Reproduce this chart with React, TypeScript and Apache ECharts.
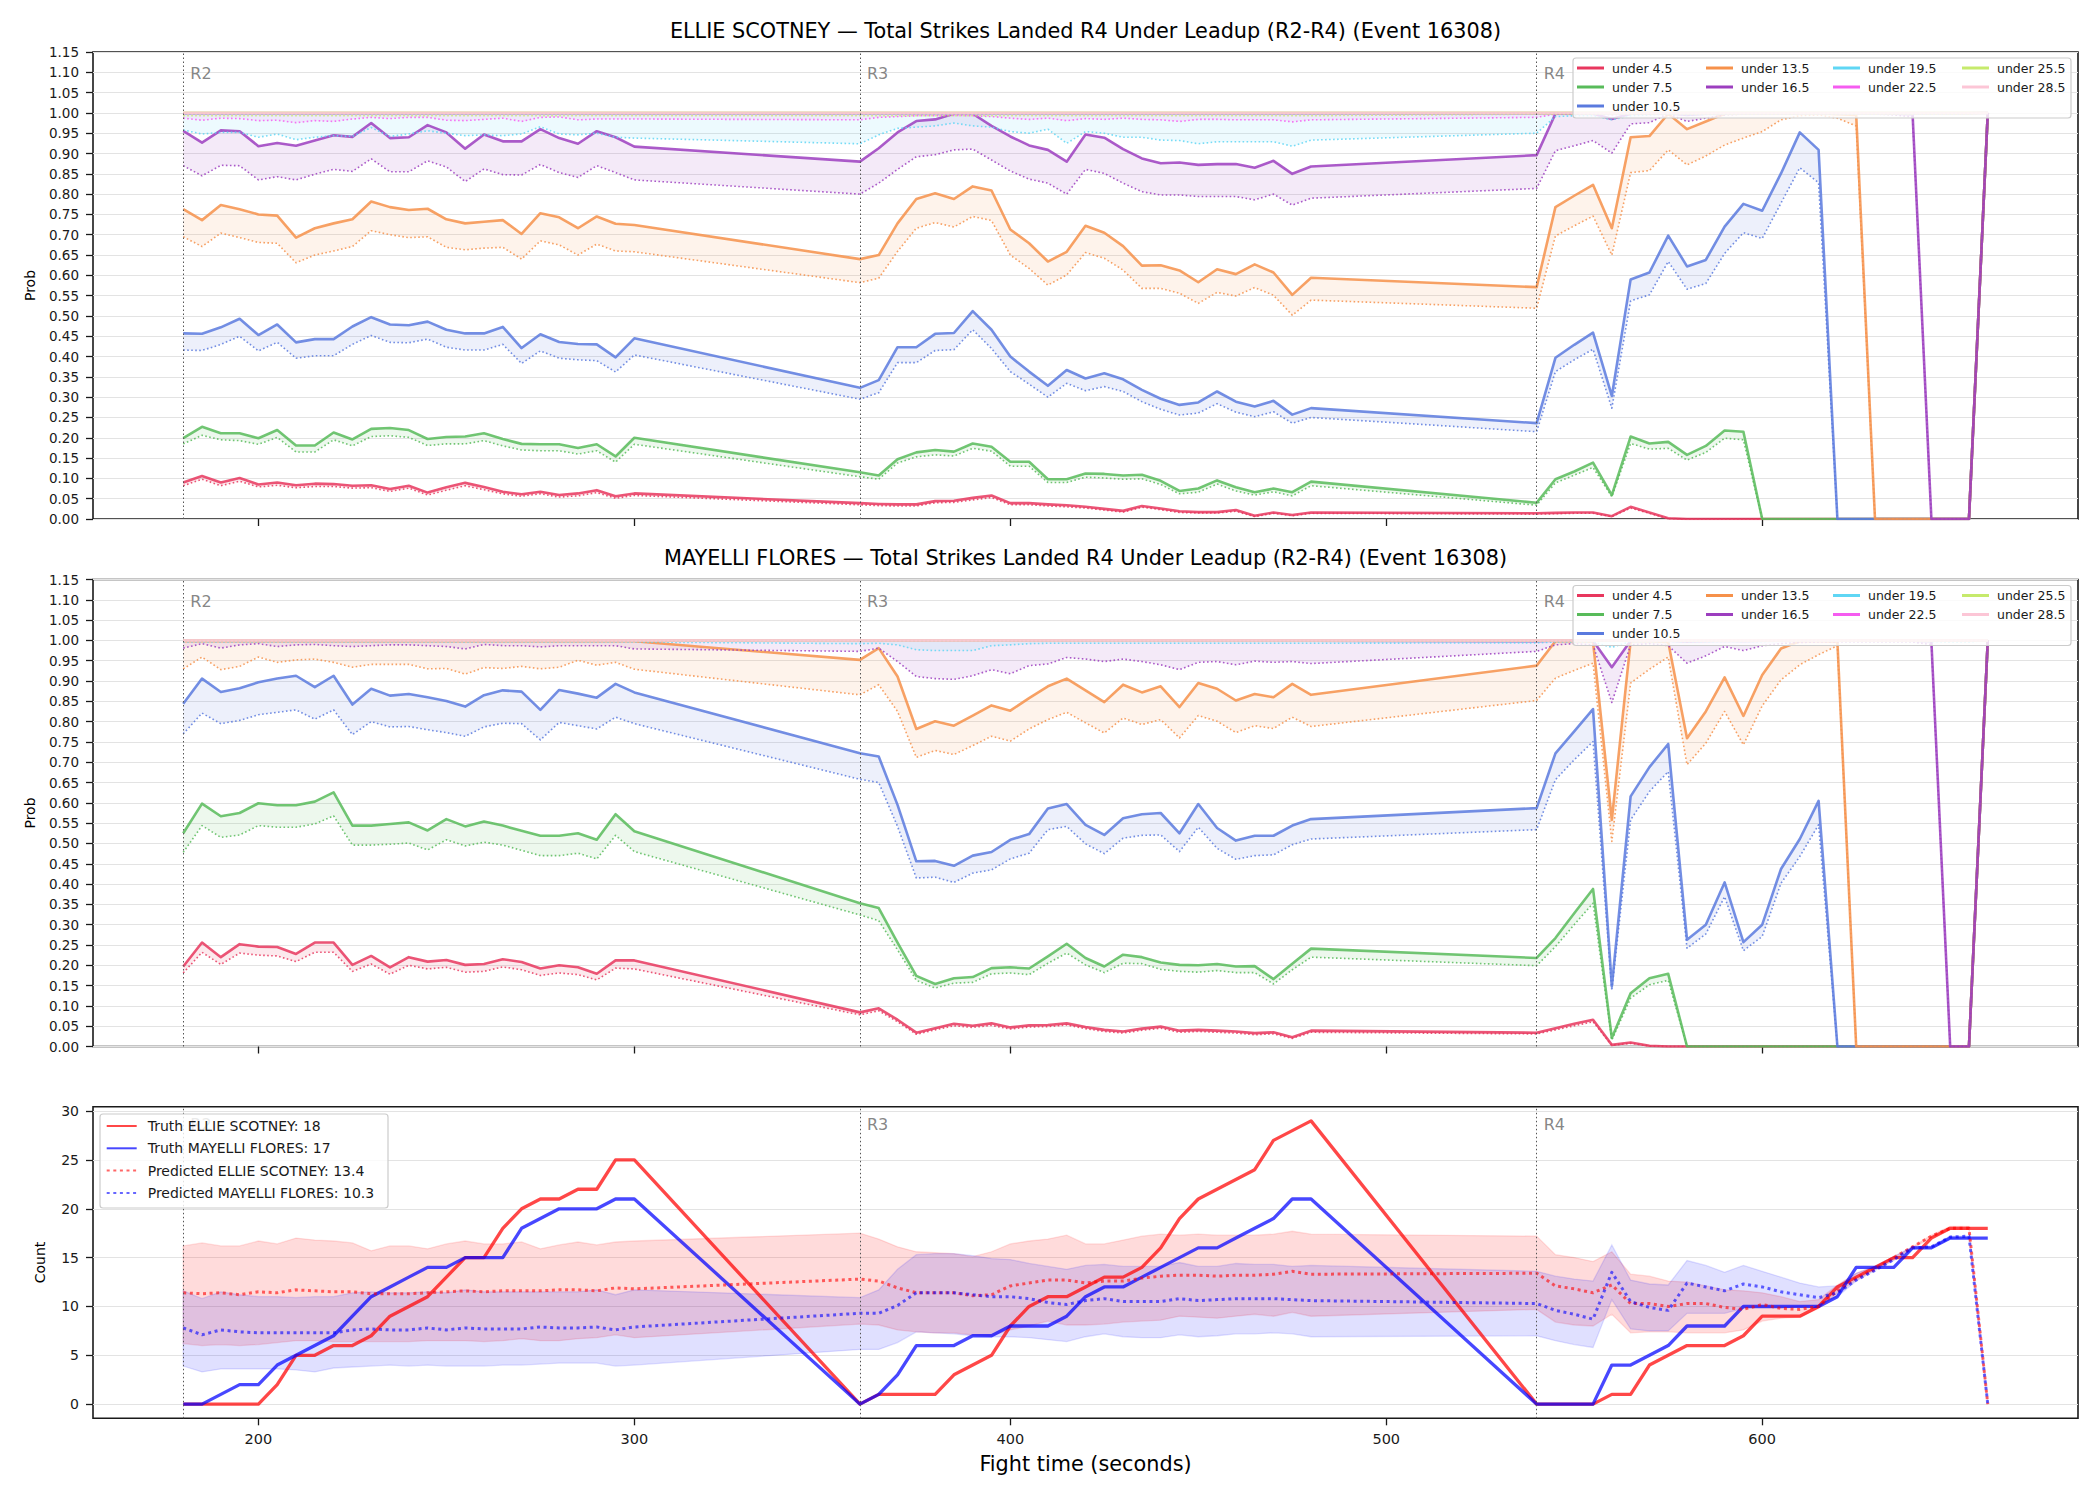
import React, { useEffect, useRef } from "react";
import * as echarts from "echarts";

// ---------- labels & categories ----------
const fighters = ["ELLIE SCOTNEY", "MAYELLI FLORES"];
const titleSuffix = " — Total Strikes Landed R4 Under Leadup (R2-R4) (Event 16308)";
const thresholds = [
  "under 4.5", "under 7.5", "under 10.5", "under 13.5", "under 16.5",
  "under 19.5", "under 22.5", "under 25.5", "under 28.5",
];
const thresholdColors = [
  "#e8375e", "#58bb5a", "#5a7ade", "#f6914a", "#9c3ebf",
  "#5fd6f4", "#f55cf0", "#c6ea6c", "#fcc6d6",
];
const rounds = [180, 360, 540];
const roundNames = ["R2", "R3", "R4"];
const xTicks = [200, 300, 400, 500, 600];
const countTicks = [0, 5, 10, 15, 20, 25, 30];

// fight-time sample points (seconds)
const times = [
  180, 185, 190, 195, 200, 205, 210, 215, 220, 225, 230, 235, 240, 245, 250, 255, 260, 265, 270, 275, 280, 285, 290, 295, 300,
  360, 365, 370, 375, 380, 385, 390, 395, 400, 405, 410, 415, 420, 425, 430, 435, 440, 445, 450, 455, 460, 465, 470, 475, 480,
  540, 545, 550, 555, 560, 565, 570, 575, 580, 585, 590, 595, 600, 605, 610, 615, 620, 625, 630, 635, 640, 645, 650, 655, 660,
];

// ---------- ELLIE SCOTNEY: model (solid) and baseline (dotted) probabilities ----------
const ellieU4 = [
  0.090, 0.106, 0.090, 0.101, 0.085, 0.090, 0.083, 0.087, 0.086, 0.082, 0.083, 0.074, 0.082, 0.065, 0.078, 0.089, 0.079, 0.067, 0.061, 0.067, 0.059, 0.063, 0.071, 0.056, 0.063,
  0.039, 0.037, 0.036, 0.036, 0.044, 0.045, 0.052, 0.058, 0.039, 0.039, 0.036, 0.034, 0.030, 0.025, 0.020, 0.032, 0.026, 0.019, 0.017, 0.017, 0.022, 0.008, 0.016, 0.010, 0.016,
  0.014, 0.015, 0.016, 0.016, 0.007, 0.030, 0.016, 0.002, 0, 0, 0, 0, 0, 0, 0, 0, 0, 0, 0, 0, 0, 0, 0, 0, 1,
];
const ellieU4Base = [
  0.082, 0.098, 0.082, 0.093, 0.079, 0.083, 0.077, 0.080, 0.080, 0.076, 0.077, 0.068, 0.076, 0.059, 0.071, 0.082, 0.072, 0.062, 0.056, 0.062, 0.054, 0.057, 0.065, 0.051, 0.058,
  0.035, 0.033, 0.032, 0.032, 0.040, 0.041, 0.047, 0.053, 0.035, 0.035, 0.032, 0.030, 0.027, 0.022, 0.017, 0.029, 0.023, 0.016, 0.015, 0.015, 0.019, 0.006, 0.014, 0.008, 0.014,
  0.012, 0.013, 0.014, 0.014, 0.006, 0.027, 0.014, 0.001, 0, 0, 0, 0, 0, 0, 0, 0, 0, 0, 0, 0, 0, 0, 0, 0, 1,
];
const ellieU7 = [
  0.199, 0.227, 0.211, 0.211, 0.199, 0.219, 0.181, 0.181, 0.213, 0.196, 0.222, 0.224, 0.219, 0.197, 0.202, 0.203, 0.211, 0.197, 0.185, 0.184, 0.184, 0.175, 0.184, 0.154, 0.200,
  0.115, 0.107, 0.147, 0.164, 0.170, 0.166, 0.186, 0.178, 0.141, 0.141, 0.098, 0.098, 0.112, 0.111, 0.107, 0.109, 0.094, 0.069, 0.075, 0.095, 0.078, 0.066, 0.075, 0.066, 0.092,
  0.040, 0.098, 0.117, 0.139, 0.059, 0.203, 0.186, 0.190, 0.158, 0.180, 0.218, 0.215, 0, 0, 0, 0, 0, 0, 0, 0, 0, 0, 0, 0, 1,
];
const ellieU7Base = [
  0.185, 0.206, 0.195, 0.193, 0.184, 0.201, 0.165, 0.165, 0.195, 0.180, 0.203, 0.205, 0.201, 0.181, 0.185, 0.185, 0.193, 0.180, 0.170, 0.168, 0.168, 0.160, 0.168, 0.140, 0.184,
  0.104, 0.098, 0.138, 0.153, 0.158, 0.155, 0.174, 0.167, 0.130, 0.130, 0.090, 0.090, 0.103, 0.101, 0.098, 0.099, 0.085, 0.062, 0.066, 0.086, 0.069, 0.059, 0.067, 0.057, 0.082,
  0.034, 0.089, 0.108, 0.127, 0.055, 0.186, 0.172, 0.174, 0.145, 0.164, 0.199, 0.195, 0, 0, 0, 0, 0, 0, 0, 0, 0, 0, 0, 0, 1,
];
const ellieU10 = [
  0.457, 0.456, 0.472, 0.493, 0.453, 0.479, 0.435, 0.443, 0.443, 0.474, 0.497, 0.479, 0.477, 0.486, 0.466, 0.457, 0.457, 0.473, 0.421, 0.455, 0.436, 0.431, 0.430, 0.398, 0.445,
  0.323, 0.342, 0.423, 0.423, 0.456, 0.458, 0.512, 0.466, 0.400, 0.363, 0.328, 0.367, 0.346, 0.359, 0.344, 0.318, 0.296, 0.281, 0.287, 0.314, 0.289, 0.277, 0.291, 0.257, 0.273,
  0.236, 0.397, 0.429, 0.459, 0.303, 0.590, 0.607, 0.698, 0.622, 0.638, 0.720, 0.776, 0.759, 0.851, 0.952, 0.909, 0, 0, 0, 0, 0, 0, 0, 0, 1,
];
const ellieU10Base = [
  0.416, 0.415, 0.430, 0.450, 0.414, 0.435, 0.396, 0.402, 0.402, 0.430, 0.452, 0.435, 0.434, 0.443, 0.423, 0.416, 0.416, 0.430, 0.383, 0.414, 0.396, 0.392, 0.390, 0.362, 0.404,
  0.295, 0.311, 0.385, 0.385, 0.415, 0.417, 0.466, 0.420, 0.363, 0.332, 0.300, 0.334, 0.316, 0.326, 0.314, 0.289, 0.270, 0.256, 0.261, 0.284, 0.263, 0.252, 0.264, 0.236, 0.250,
  0.215, 0.363, 0.392, 0.418, 0.273, 0.537, 0.552, 0.634, 0.566, 0.580, 0.654, 0.705, 0.691, 0.778, 0.865, 0.828, 0, 0, 0, 0, 0, 0, 0, 0, 1,
];
const ellieU13 = [
  0.763, 0.736, 0.773, 0.763, 0.750, 0.747, 0.693, 0.716, 0.728, 0.738, 0.782, 0.768, 0.761, 0.764, 0.738, 0.728, 0.732, 0.736, 0.702, 0.753, 0.743, 0.716, 0.745, 0.727, 0.724,
  0.640, 0.650, 0.728, 0.788, 0.802, 0.788, 0.819, 0.809, 0.713, 0.679, 0.634, 0.658, 0.722, 0.705, 0.672, 0.624, 0.625, 0.612, 0.583, 0.615, 0.603, 0.627, 0.607, 0.552, 0.594,
  0.571, 0.768, 0.796, 0.823, 0.716, 0.940, 0.943, 0.998, 0.960, 0.979, 0.998, 0.999, 0.999, 0.999, 0.999, 0.999, 0.997, 0.995, 0, 0, 0, 0, 0, 0, 1,
];
const ellieU13Base = [
  0.695, 0.671, 0.704, 0.693, 0.681, 0.679, 0.631, 0.650, 0.660, 0.671, 0.710, 0.700, 0.693, 0.695, 0.669, 0.663, 0.667, 0.669, 0.640, 0.685, 0.675, 0.650, 0.677, 0.660, 0.658,
  0.582, 0.593, 0.659, 0.716, 0.730, 0.719, 0.745, 0.735, 0.650, 0.617, 0.576, 0.601, 0.656, 0.642, 0.613, 0.568, 0.568, 0.556, 0.531, 0.558, 0.549, 0.570, 0.551, 0.502, 0.539,
  0.519, 0.697, 0.722, 0.746, 0.650, 0.853, 0.858, 0.909, 0.872, 0.894, 0.921, 0.938, 0.954, 0.983, 0.993, 0.995, 0.987, 0.968, 0, 0, 0, 0, 0, 0, 1,
];
const ellieU16 = [
  0.956, 0.927, 0.957, 0.955, 0.918, 0.926, 0.919, 0.932, 0.945, 0.941, 0.975, 0.938, 0.940, 0.970, 0.952, 0.912, 0.947, 0.930, 0.930, 0.960, 0.938, 0.924, 0.955, 0.940, 0.917,
  0.880, 0.913, 0.952, 0.980, 0.984, 0.998, 0.998, 0.968, 0.942, 0.920, 0.909, 0.880, 0.947, 0.939, 0.911, 0.888, 0.876, 0.878, 0.872, 0.874, 0.874, 0.865, 0.882, 0.850, 0.868,
  0.896, 0.998, 0.998, 0.998, 0.985, 0.998, 0.998, 0.999, 0.995, 0.998, 0.999, 0.999, 0.999, 0.999, 0.999, 0.999, 0.999, 0.999, 0.999, 0.998, 0.997, 0, 0, 0, 1,
];
const ellieU16Base = [
  0.870, 0.845, 0.871, 0.870, 0.835, 0.843, 0.835, 0.849, 0.861, 0.856, 0.887, 0.855, 0.855, 0.882, 0.867, 0.831, 0.862, 0.848, 0.847, 0.873, 0.853, 0.841, 0.870, 0.853, 0.835,
  0.800, 0.827, 0.861, 0.892, 0.897, 0.909, 0.911, 0.884, 0.857, 0.837, 0.827, 0.800, 0.861, 0.851, 0.827, 0.806, 0.798, 0.798, 0.794, 0.794, 0.794, 0.786, 0.800, 0.773, 0.790,
  0.814, 0.907, 0.919, 0.932, 0.901, 0.973, 0.976, 0.998, 0.979, 0.987, 0.995, 0.997, 0.997, 0.998, 0.998, 0.998, 0.998, 0.998, 0.997, 0.995, 0.990, 0, 0, 0, 1,
];
const ellieU19 = [
  0.998, 0.998, 0.998, 0.998, 0.998, 0.998, 0.998, 0.998, 0.998, 0.998, 0.998, 0.998, 0.998, 0.998, 0.998, 0.998, 0.998, 0.998, 0.998, 0.998, 0.998, 0.998, 0.998, 0.998, 0.998,
  0.998, 0.998, 0.998, 0.998, 0.998, 0.998, 0.998, 0.998, 0.998, 0.998, 0.998, 0.998, 0.998, 0.998, 0.998, 0.998, 0.998, 0.998, 0.998, 0.998, 0.998, 0.998, 0.998, 0.998, 0.998,
  0.999, 0.999, 0.999, 0.999, 0.999, 0.999, 0.999, 0.999, 0.999, 0.999, 0.999, 0.999, 0.999, 0.999, 0.999, 0.999, 0.999, 0.999, 0.999, 0.999, 0.999, 0.999, 0.999, 0.999, 1,
];
const ellieU19Base = [
  0.958, 0.948, 0.952, 0.952, 0.940, 0.948, 0.934, 0.940, 0.944, 0.942, 0.964, 0.942, 0.948, 0.956, 0.950, 0.944, 0.946, 0.944, 0.948, 0.966, 0.948, 0.946, 0.950, 0.940, 0.938,
  0.924, 0.946, 0.962, 0.965, 0.968, 0.975, 0.968, 0.965, 0.954, 0.950, 0.960, 0.925, 0.954, 0.950, 0.940, 0.940, 0.933, 0.932, 0.924, 0.929, 0.929, 0.929, 0.929, 0.918, 0.933,
  0.950, 0.991, 0.993, 0.993, 0.983, 0.993, 0.995, 0.997, 0.995, 0.996, 0.997, 0.998, 0.998, 0.998, 0.998, 0.998, 0.998, 0.998, 0.998, 0.998, 0.997, 0.997, 0.997, 0.998, 1,
];
const ellieU22 = [
  0.999, 0.999, 0.999, 0.999, 0.999, 0.999, 0.999, 0.999, 0.999, 0.999, 0.999, 0.999, 0.999, 0.999, 0.999, 0.999, 0.999, 0.999, 0.999, 0.999, 0.999, 0.999, 0.999, 0.999, 0.999,
  0.999, 0.999, 0.999, 0.999, 0.999, 0.999, 0.999, 0.999, 0.999, 0.999, 0.999, 0.999, 0.999, 0.999, 0.999, 0.999, 0.999, 0.999, 0.999, 0.999, 0.999, 0.999, 0.999, 0.999, 0.999,
  0.999, 0.999, 0.999, 0.999, 0.999, 0.999, 0.999, 0.999, 0.999, 0.999, 0.999, 0.999, 0.999, 0.999, 0.999, 0.999, 0.999, 0.999, 0.999, 0.999, 0.999, 0.999, 0.999, 0.999, 1,
];
const ellieU22Base = [
  0.987, 0.982, 0.987, 0.986, 0.981, 0.982, 0.976, 0.981, 0.979, 0.985, 0.989, 0.986, 0.989, 0.989, 0.982, 0.981, 0.984, 0.987, 0.979, 0.989, 0.990, 0.983, 0.985, 0.985, 0.985,
  0.983, 0.989, 0.991, 0.993, 0.993, 0.994, 0.993, 0.991, 0.987, 0.984, 0.987, 0.981, 0.986, 0.984, 0.987, 0.984, 0.983, 0.979, 0.984, 0.984, 0.983, 0.983, 0.983, 0.978, 0.983,
  0.989, 0.997, 0.998, 0.998, 0.995, 0.998, 0.998, 0.998, 0.998, 0.998, 0.998, 0.998, 0.998, 0.998, 0.998, 0.998, 0.998, 0.998, 0.998, 0.998, 0.998, 0.998, 0.998, 0.998, 1,
];
const ellieU25 = [
  1, 1, 1, 1, 1, 1, 1, 1, 1, 1, 1, 1, 1, 1, 1, 1, 1, 1, 1, 1, 1, 1, 1, 1, 1,
  1, 1, 1, 1, 1, 1, 1, 1, 1, 1, 1, 1, 1, 1, 1, 1, 1, 1, 1, 1, 1, 1, 1, 1, 1,
  1, 1, 1, 1, 1, 1, 1, 1, 1, 1, 1, 1, 1, 1, 1, 1, 1, 1, 1, 1, 1, 1, 1, 1, 1,
];
const ellieU25Base = [
  0.993, 0.993, 0.993, 0.993, 0.993, 0.993, 0.993, 0.993, 0.993, 0.993, 0.993, 0.993, 0.993, 0.993, 0.993, 0.993, 0.993, 0.993, 0.993, 0.993, 0.993, 0.993, 0.993, 0.993, 0.993,
  0.993, 0.993, 0.993, 0.993, 0.993, 0.993, 0.993, 0.993, 0.993, 0.993, 0.993, 0.993, 0.993, 0.993, 0.993, 0.993, 0.993, 0.993, 0.993, 0.993, 0.993, 0.993, 0.993, 0.993, 0.993,
  0.997, 0.997, 0.997, 0.997, 0.997, 0.997, 0.997, 0.997, 0.997, 0.997, 0.997, 0.997, 0.997, 0.997, 0.997, 0.997, 0.997, 0.997, 0.997, 0.997, 0.997, 0.997, 0.997, 0.997, 1,
];
const ellieU28 = [
  1, 1, 1, 1, 1, 1, 1, 1, 1, 1, 1, 1, 1, 1, 1, 1, 1, 1, 1, 1, 1, 1, 1, 1, 1,
  1, 1, 1, 1, 1, 1, 1, 1, 1, 1, 1, 1, 1, 1, 1, 1, 1, 1, 1, 1, 1, 1, 1, 1, 1,
  1, 1, 1, 1, 1, 1, 1, 1, 1, 1, 1, 1, 1, 1, 1, 1, 1, 1, 1, 1, 1, 1, 1, 1, 1,
];
const ellieU28Base = [
  0.998, 0.998, 0.998, 0.998, 0.998, 0.998, 0.998, 0.998, 0.998, 0.998, 0.998, 0.998, 0.998, 0.998, 0.998, 0.998, 0.998, 0.998, 0.998, 0.998, 0.998, 0.998, 0.998, 0.998, 0.998,
  0.998, 0.998, 0.998, 0.998, 0.998, 0.998, 0.998, 0.998, 0.998, 0.998, 0.998, 0.998, 0.998, 0.998, 0.998, 0.998, 0.998, 0.998, 0.998, 0.998, 0.998, 0.998, 0.998, 0.998, 0.998,
  0.999, 0.999, 0.999, 0.999, 0.999, 0.999, 0.999, 0.999, 0.999, 0.999, 0.999, 0.999, 0.999, 0.999, 0.999, 0.999, 0.999, 0.999, 0.999, 0.999, 0.999, 0.999, 0.999, 0.999, 1,
];

// ---------- MAYELLI FLORES ----------
const mayelliU4 = [
  0.197, 0.256, 0.220, 0.252, 0.246, 0.245, 0.228, 0.256, 0.256, 0.201, 0.223, 0.195, 0.220, 0.209, 0.213, 0.201, 0.203, 0.215, 0.208, 0.192, 0.200, 0.195, 0.179, 0.212, 0.212,
  0.084, 0.094, 0.066, 0.034, 0.045, 0.056, 0.051, 0.057, 0.047, 0.052, 0.053, 0.057, 0.048, 0.041, 0.037, 0.044, 0.049, 0.039, 0.041, 0.039, 0.037, 0.033, 0.035, 0.023, 0.039,
  0.034, 0.045, 0.056, 0.066, 0.004, 0.010, 0.002, 0, 0, 0, 0, 0, 0, 0, 0, 0, 0, 0, 0, 0, 0, 0, 0, 0, 1,
];
const mayelliU4Base = [
  0.181, 0.232, 0.202, 0.230, 0.225, 0.223, 0.209, 0.232, 0.232, 0.185, 0.203, 0.178, 0.200, 0.191, 0.195, 0.183, 0.185, 0.196, 0.189, 0.175, 0.181, 0.177, 0.164, 0.193, 0.191,
  0.078, 0.088, 0.061, 0.030, 0.041, 0.051, 0.047, 0.052, 0.043, 0.048, 0.049, 0.053, 0.044, 0.037, 0.033, 0.040, 0.045, 0.035, 0.037, 0.035, 0.033, 0.029, 0.031, 0.020, 0.035,
  0.031, 0.041, 0.051, 0.061, 0.003, 0.008, 0.001, 0, 0, 0, 0, 0, 0, 0, 0, 0, 0, 0, 0, 0, 0, 0, 0, 0, 1,
];
const mayelliU7 = [
  0.525, 0.598, 0.567, 0.575, 0.599, 0.594, 0.594, 0.603, 0.626, 0.544, 0.544, 0.548, 0.552, 0.532, 0.560, 0.542, 0.554, 0.544, 0.531, 0.519, 0.519, 0.525, 0.509, 0.572, 0.530,
  0.353, 0.341, 0.256, 0.174, 0.154, 0.168, 0.171, 0.193, 0.195, 0.192, 0.222, 0.253, 0.218, 0.197, 0.226, 0.220, 0.207, 0.201, 0.200, 0.203, 0.197, 0.198, 0.166, 0.204, 0.241,
  0.218, 0.267, 0.328, 0.388, 0.021, 0.131, 0.168, 0.179, 0, 0, 0, 0, 0, 0, 0, 0, 0, 0, 0, 0, 0, 0, 0, 0, 1,
];
const mayelliU7Base = [
  0.478, 0.544, 0.515, 0.521, 0.544, 0.540, 0.540, 0.548, 0.568, 0.496, 0.496, 0.498, 0.501, 0.484, 0.509, 0.494, 0.503, 0.496, 0.483, 0.470, 0.470, 0.476, 0.462, 0.520, 0.480,
  0.324, 0.310, 0.238, 0.163, 0.144, 0.156, 0.158, 0.179, 0.181, 0.177, 0.205, 0.230, 0.201, 0.182, 0.205, 0.204, 0.190, 0.185, 0.183, 0.187, 0.182, 0.182, 0.154, 0.189, 0.220,
  0.199, 0.246, 0.300, 0.353, 0.016, 0.119, 0.152, 0.163, 0, 0, 0, 0, 0, 0, 0, 0, 0, 0, 0, 0, 0, 0, 0, 0, 1,
];
const mayelliU10 = [
  0.844, 0.906, 0.873, 0.882, 0.897, 0.906, 0.913, 0.885, 0.913, 0.842, 0.881, 0.864, 0.868, 0.860, 0.851, 0.837, 0.865, 0.877, 0.874, 0.829, 0.878, 0.869, 0.859, 0.893, 0.872,
  0.722, 0.714, 0.595, 0.456, 0.457, 0.445, 0.470, 0.479, 0.509, 0.523, 0.586, 0.597, 0.546, 0.521, 0.562, 0.572, 0.575, 0.525, 0.597, 0.538, 0.507, 0.519, 0.519, 0.544, 0.560,
  0.587, 0.722, 0.776, 0.831, 0.148, 0.616, 0.688, 0.745, 0.263, 0.300, 0.404, 0.257, 0.300, 0.437, 0.511, 0.605, 0, 0, 0, 0, 0, 0, 0, 0, 1,
];
const mayelliU10Base = [
  0.770, 0.821, 0.795, 0.803, 0.817, 0.823, 0.829, 0.806, 0.829, 0.768, 0.800, 0.787, 0.788, 0.780, 0.773, 0.764, 0.787, 0.796, 0.795, 0.755, 0.798, 0.790, 0.782, 0.811, 0.795,
  0.658, 0.650, 0.542, 0.415, 0.417, 0.404, 0.427, 0.435, 0.462, 0.476, 0.534, 0.542, 0.499, 0.475, 0.513, 0.520, 0.521, 0.480, 0.540, 0.488, 0.461, 0.470, 0.472, 0.497, 0.511,
  0.534, 0.657, 0.706, 0.751, 0.138, 0.558, 0.628, 0.677, 0.242, 0.277, 0.369, 0.236, 0.271, 0.402, 0.468, 0.546, 0, 0, 0, 0, 0, 0, 0, 0, 1,
];
const mayelliU13 = [
  0.998, 0.998, 0.998, 0.998, 0.998, 0.998, 0.998, 0.998, 0.998, 0.998, 0.998, 0.998, 0.998, 0.998, 0.998, 0.998, 0.998, 0.998, 0.998, 0.998, 0.998, 0.998, 0.998, 0.998, 0.998,
  0.952, 0.981, 0.911, 0.782, 0.801, 0.790, 0.815, 0.840, 0.827, 0.858, 0.887, 0.906, 0.877, 0.848, 0.891, 0.872, 0.887, 0.836, 0.895, 0.881, 0.852, 0.868, 0.860, 0.893, 0.866,
  0.938, 0.998, 0.998, 0.997, 0.558, 0.998, 0.998, 0.996, 0.759, 0.825, 0.909, 0.814, 0.915, 0.980, 0.998, 0.998, 0.997, 0, 0, 0, 0, 0, 0, 0, 1,
];
const mayelliU13Base = [
  0.930, 0.959, 0.928, 0.936, 0.959, 0.946, 0.952, 0.954, 0.946, 0.934, 0.941, 0.941, 0.941, 0.930, 0.931, 0.917, 0.933, 0.931, 0.936, 0.930, 0.934, 0.951, 0.939, 0.946, 0.929,
  0.866, 0.891, 0.825, 0.712, 0.729, 0.719, 0.741, 0.764, 0.752, 0.782, 0.805, 0.823, 0.797, 0.772, 0.809, 0.793, 0.805, 0.760, 0.815, 0.801, 0.773, 0.790, 0.783, 0.811, 0.788,
  0.852, 0.907, 0.926, 0.944, 0.505, 0.895, 0.929, 0.959, 0.694, 0.747, 0.825, 0.743, 0.839, 0.903, 0.940, 0.965, 0.987, 0, 0, 0, 0, 0, 0, 0, 1,
];
const mayelliU16 = [
  0.999, 0.999, 0.999, 0.999, 0.999, 0.999, 0.999, 0.999, 0.999, 0.999, 0.999, 0.999, 0.999, 0.999, 0.999, 0.999, 0.999, 0.999, 0.999, 0.999, 0.999, 0.999, 0.999, 0.999, 0.999,
  0.999, 0.999, 0.999, 0.999, 0.999, 0.999, 0.999, 0.999, 0.999, 0.999, 0.999, 0.999, 0.999, 0.999, 0.999, 0.999, 0.999, 0.999, 0.999, 0.999, 0.999, 0.999, 0.999, 0.999, 0.999,
  0.998, 0.999, 0.999, 0.999, 0.934, 0.999, 0.999, 0.999, 0.997, 0.998, 0.999, 0.998, 0.999, 0.999, 0.999, 0.999, 0.999, 0.999, 0.999, 0.999, 0.999, 0.998, 0, 0, 1,
];
const mayelliU16Base = [
  0.981, 0.992, 0.981, 0.989, 0.992, 0.985, 0.989, 0.990, 0.987, 0.985, 0.987, 0.989, 0.989, 0.987, 0.985, 0.979, 0.990, 0.987, 0.987, 0.984, 0.987, 0.987, 0.987, 0.987, 0.979,
  0.973, 0.981, 0.948, 0.911, 0.906, 0.904, 0.913, 0.928, 0.918, 0.938, 0.942, 0.958, 0.954, 0.948, 0.954, 0.948, 0.940, 0.928, 0.946, 0.948, 0.940, 0.949, 0.946, 0.948, 0.943,
  0.973, 0.989, 0.992, 0.989, 0.847, 0.989, 0.992, 0.987, 0.944, 0.962, 0.985, 0.975, 0.987, 0.992, 0.995, 0.996, 0.996, 0.996, 0.996, 0.996, 0.996, 0.990, 0, 0, 1,
];
const mayelliU19 = [
  0.999, 0.999, 0.999, 0.999, 0.999, 0.999, 0.999, 0.999, 0.999, 0.999, 0.999, 0.999, 0.999, 0.999, 0.999, 0.999, 0.999, 0.999, 0.999, 0.999, 0.999, 0.999, 0.999, 0.999, 0.999,
  0.999, 0.999, 0.999, 0.999, 0.999, 0.999, 0.999, 0.999, 0.999, 0.999, 0.999, 0.999, 0.999, 0.999, 0.999, 0.999, 0.999, 0.999, 0.999, 0.999, 0.999, 0.999, 0.999, 0.999, 0.999,
  0.999, 0.999, 0.999, 0.999, 0.999, 0.999, 0.999, 0.999, 0.999, 0.999, 0.999, 0.999, 0.999, 0.999, 0.999, 0.999, 0.999, 0.999, 0.999, 0.999, 0.999, 0.999, 0.999, 0.999, 1,
];
const mayelliU19Base = [
  0.996, 0.996, 0.996, 0.996, 0.996, 0.996, 0.996, 0.996, 0.996, 0.996, 0.996, 0.996, 0.996, 0.996, 0.996, 0.996, 0.996, 0.996, 0.996, 0.996, 0.996, 0.996, 0.996, 0.996, 0.996,
  0.992, 0.993, 0.989, 0.977, 0.975, 0.975, 0.975, 0.987, 0.989, 0.992, 0.993, 0.993, 0.993, 0.993, 0.993, 0.993, 0.993, 0.993, 0.993, 0.993, 0.993, 0.993, 0.993, 0.993, 0.993,
  0.994, 0.996, 0.996, 0.996, 0.983, 0.997, 0.997, 0.997, 0.996, 0.996, 0.997, 0.997, 0.997, 0.998, 0.998, 0.998, 0.998, 0.998, 0.998, 0.998, 0.998, 0.997, 0.996, 0.996, 1,
];
const mayelliU22 = [
  1, 1, 1, 1, 1, 1, 1, 1, 1, 1, 1, 1, 1, 1, 1, 1, 1, 1, 1, 1, 1, 1, 1, 1, 1,
  1, 1, 1, 1, 1, 1, 1, 1, 1, 1, 1, 1, 1, 1, 1, 1, 1, 1, 1, 1, 1, 1, 1, 1, 1,
  1, 1, 1, 1, 1, 1, 1, 1, 1, 1, 1, 1, 1, 1, 1, 1, 1, 1, 1, 1, 1, 1, 1, 1, 1,
];
const mayelliU22Base = [
  0.998, 0.998, 0.998, 0.998, 0.998, 0.998, 0.998, 0.998, 0.998, 0.998, 0.998, 0.998, 0.998, 0.998, 0.998, 0.998, 0.998, 0.998, 0.998, 0.998, 0.998, 0.998, 0.998, 0.998, 0.998,
  0.998, 0.998, 0.998, 0.998, 0.998, 0.998, 0.998, 0.998, 0.998, 0.998, 0.998, 0.998, 0.998, 0.998, 0.998, 0.998, 0.998, 0.998, 0.998, 0.998, 0.998, 0.998, 0.998, 0.998, 0.998,
  0.998, 0.998, 0.998, 0.998, 0.998, 0.998, 0.998, 0.998, 0.998, 0.998, 0.998, 0.998, 0.998, 0.998, 0.998, 0.998, 0.998, 0.998, 0.998, 0.998, 0.998, 0.998, 0.998, 0.998, 1,
];
const mayelliU25 = [
  1, 1, 1, 1, 1, 1, 1, 1, 1, 1, 1, 1, 1, 1, 1, 1, 1, 1, 1, 1, 1, 1, 1, 1, 1,
  1, 1, 1, 1, 1, 1, 1, 1, 1, 1, 1, 1, 1, 1, 1, 1, 1, 1, 1, 1, 1, 1, 1, 1, 1,
  1, 1, 1, 1, 1, 1, 1, 1, 1, 1, 1, 1, 1, 1, 1, 1, 1, 1, 1, 1, 1, 1, 1, 1, 1,
];
const mayelliU25Base = [
  0.999, 0.999, 0.999, 0.999, 0.999, 0.999, 0.999, 0.999, 0.999, 0.999, 0.999, 0.999, 0.999, 0.999, 0.999, 0.999, 0.999, 0.999, 0.999, 0.999, 0.999, 0.999, 0.999, 0.999, 0.999,
  0.999, 0.999, 0.999, 0.999, 0.999, 0.999, 0.999, 0.999, 0.999, 0.999, 0.999, 0.999, 0.999, 0.999, 0.999, 0.999, 0.999, 0.999, 0.999, 0.999, 0.999, 0.999, 0.999, 0.999, 0.999,
  0.999, 0.999, 0.999, 0.999, 0.999, 0.999, 0.999, 0.999, 0.999, 0.999, 0.999, 0.999, 0.999, 0.999, 0.999, 0.999, 0.999, 0.999, 0.999, 0.999, 0.999, 0.999, 0.999, 0.999, 1,
];
const mayelliU28 = [
  1, 1, 1, 1, 1, 1, 1, 1, 1, 1, 1, 1, 1, 1, 1, 1, 1, 1, 1, 1, 1, 1, 1, 1, 1,
  1, 1, 1, 1, 1, 1, 1, 1, 1, 1, 1, 1, 1, 1, 1, 1, 1, 1, 1, 1, 1, 1, 1, 1, 1,
  1, 1, 1, 1, 1, 1, 1, 1, 1, 1, 1, 1, 1, 1, 1, 1, 1, 1, 1, 1, 1, 1, 1, 1, 1,
];
const mayelliU28Base = [
  0.9995, 0.9995, 0.9995, 0.9995, 0.9995, 0.9995, 0.9995, 0.9995, 0.9995, 0.9995, 0.9995, 0.9995, 0.9995, 0.9995, 0.9995, 0.9995, 0.9995, 0.9995, 0.9995, 0.9995, 0.9995, 0.9995, 0.9995, 0.9995, 0.9995,
  0.9995, 0.9995, 0.9995, 0.9995, 0.9995, 0.9995, 0.9995, 0.9995, 0.9995, 0.9995, 0.9995, 0.9995, 0.9995, 0.9995, 0.9995, 0.9995, 0.9995, 0.9995, 0.9995, 0.9995, 0.9995, 0.9995, 0.9995, 0.9995, 0.9995,
  0.9995, 0.9995, 0.9995, 0.9995, 0.9995, 0.9995, 0.9995, 0.9995, 0.9995, 0.9995, 0.9995, 0.9995, 0.9995, 0.9995, 0.9995, 0.9995, 0.9995, 0.9995, 0.9995, 0.9995, 0.9995, 0.9995, 0.9995, 0.9995, 1,
];

// ---------- cumulative strike counts ----------
const truthEllie = [
  0, 0, 0, 0, 0, 2, 5, 5, 6, 6, 7, 9, 10, 11, 13, 15, 15, 18, 20, 21, 21, 22, 22, 25, 25,
  0, 1, 1, 1, 1, 3, 4, 5, 8, 10, 11, 11, 12, 13, 13, 14, 16, 19, 21, 22, 23, 24, 27, 28, 29,
  0, 0, 0, 0, 1, 1, 4, 5, 6, 6, 6, 7, 9, 9, 9, 10, 12, 13, 14, 15, 15, 17, 18, 18, 18,
];
const truthMayelli = [
  0, 0, 1, 2, 2, 4, 5, 6, 7, 9, 11, 12, 13, 14, 14, 15, 15, 15, 18, 19, 20, 20, 20, 21, 21,
  0, 1, 3, 6, 6, 6, 7, 7, 8, 8, 8, 9, 11, 12, 12, 13, 14, 15, 16, 16, 17, 18, 19, 21, 21,
  0, 0, 0, 0, 4, 4, 5, 6, 8, 8, 8, 10, 10, 10, 10, 10, 11, 14, 14, 14, 16, 16, 17, 17, 17,
];
const predEllie = [
  11.4, 11.3, 11.4, 11.2, 11.5, 11.4, 11.7, 11.6, 11.5, 11.5, 11.3, 11.3, 11.3, 11.4, 11.5, 11.6, 11.5, 11.6, 11.6, 11.6, 11.7, 11.7, 11.6, 11.9, 11.8,
  12.8, 12.6, 11.9, 11.4, 11.4, 11.4, 11.1, 11.2, 12.1, 12.4, 12.7, 12.7, 12.4, 12.6, 12.6, 12.9, 13.1, 13.2, 13.2, 13.1, 13.2, 13.2, 13.3, 13.6, 13.3,
  13.4, 12.1, 11.8, 11.4, 12.2, 10.3, 10.3, 10.0, 10.3, 10.3, 9.9, 9.7, 10.2, 9.8, 9.7, 10.0, 11.6, 12.9, 13.8, 15.0, 16.1, 17.2, 18.0, 18.0, 0,
];
const predMayelli = [
  7.8, 7.1, 7.6, 7.4, 7.3, 7.3, 7.3, 7.3, 7.3, 7.6, 7.7, 7.6, 7.6, 7.8, 7.6, 7.8, 7.7, 7.7, 7.7, 7.9, 7.8, 7.8, 7.9, 7.6, 7.9,
  9.3, 9.3, 10.1, 11.4, 11.4, 11.4, 11.2, 11.0, 11.0, 10.8, 10.4, 10.2, 10.6, 10.8, 10.5, 10.5, 10.5, 10.8, 10.6, 10.7, 10.8, 10.8, 10.8, 10.7, 10.6,
  10.3, 9.6, 9.2, 8.7, 13.5, 10.5, 9.9, 9.6, 12.4, 12.0, 11.6, 12.3, 12.0, 11.5, 11.2, 10.9, 11.4, 12.7, 13.7, 14.8, 16.0, 16.1, 17.1, 17.2, 0,
];
const predEllieHigh = [
  16.2, 16.5, 16.2, 16.2, 16.7, 16.4, 17.0, 16.8, 16.7, 16.5, 15.7, 16.2, 16.2, 15.9, 16.4, 16.7, 16.4, 16.4, 16.6, 15.9, 16.3, 16.6, 16.3, 16.6, 16.7,
  17.5, 16.9, 16.1, 15.6, 15.5, 15.4, 15.1, 15.6, 16.4, 16.7, 16.9, 17.3, 16.4, 16.4, 16.8, 17.2, 17.4, 17.3, 17.4, 17.3, 17.3, 17.3, 17.4, 17.7, 17.4,
  17.2, 15.3, 15.0, 14.6, 15.6, 13.3, 13.1, 12.6, 12.5, 12.1, 11.7, 11.6, 11.4, 11.0, 10.5, 10.7, 12.2, 13.4, 14.1, 15.1, 16.1, 17.3, 18.2, 18.2, 0,
];
const predEllieLow = [
  6.2, 6.0, 6.1, 6.0, 6.1, 6.3, 6.5, 6.5, 6.4, 6.4, 6.4, 6.4, 6.4, 6.5, 6.5, 6.5, 6.4, 6.5, 6.7, 6.5, 6.5, 6.7, 6.8, 7.1, 6.8,
  8.2, 8.1, 7.6, 7.4, 7.3, 7.3, 7.1, 7.0, 7.6, 8.0, 8.5, 8.1, 8.1, 8.2, 8.4, 8.5, 8.6, 9.0, 8.9, 8.8, 9.0, 9.2, 9.0, 9.4, 9.0,
  9.7, 8.4, 8.1, 8.0, 9.2, 7.3, 7.4, 7.4, 7.3, 7.3, 7.3, 7.6, 8.5, 8.8, 8.9, 9.8, 11.4, 12.7, 13.8, 14.8, 16.0, 17.0, 17.9, 17.9, 0,
];
const predMayelliHigh = [
  11.6, 10.8, 11.5, 11.2, 11.0, 11.0, 10.9, 11.0, 11.0, 11.4, 11.5, 11.4, 11.4, 11.5, 11.4, 11.7, 11.5, 11.5, 11.5, 11.5, 11.5, 11.5, 11.7, 11.2, 11.7,
  10.9, 11.7, 13.8, 15.3, 15.4, 15.4, 15.2, 14.9, 14.8, 14.4, 14.1, 13.8, 14.2, 14.3, 14.1, 14.1, 14.1, 14.5, 14.1, 14.1, 14.4, 14.3, 14.3, 14.1, 14.2,
  13.6, 13.1, 12.8, 12.6, 16.3, 12.7, 12.3, 12.2, 14.7, 14.2, 13.5, 14.2, 13.6, 13.0, 12.4, 12.0, 12.1, 13.4, 14.1, 15.1, 16.1, 16.2, 17.2, 17.2, 0,
];
const predMayelliLow = [
  3.9, 3.3, 3.6, 3.6, 3.6, 3.6, 3.5, 3.3, 3.7, 3.8, 3.9, 4.0, 3.9, 4.0, 3.9, 3.9, 3.9, 4.0, 4.0, 4.1, 4.2, 4.2, 4.2, 3.9, 4.0,
  5.6, 5.6, 6.3, 7.4, 7.3, 7.2, 7.0, 6.9, 6.9, 6.8, 6.6, 6.4, 6.9, 7.2, 6.9, 6.8, 6.8, 7.1, 6.9, 7.0, 7.2, 7.2, 7.3, 7.2, 6.9,
  7.0, 6.5, 6.1, 5.8, 10.7, 7.7, 7.5, 7.5, 9.3, 9.3, 9.3, 9.8, 9.8, 9.8, 10.0, 10.1, 11.0, 12.6, 13.7, 14.7, 15.9, 16.0, 16.9, 17.0, 0,
];
const countLegend = [
  "Truth ELLIE SCOTNEY: 18",
  "Truth MAYELLI FLORES: 17",
  "Predicted ELLIE SCOTNEY: 13.4",
  "Predicted MAYELLI FLORES: 10.3",
];

const ellieLines = [ellieU4, ellieU7, ellieU10, ellieU13, ellieU16, ellieU19, ellieU22, ellieU25, ellieU28];
const ellieBase = [ellieU4Base, ellieU7Base, ellieU10Base, ellieU13Base, ellieU16Base, ellieU19Base, ellieU22Base, ellieU25Base, ellieU28Base];
const mayelliLines = [mayelliU4, mayelliU7, mayelliU10, mayelliU13, mayelliU16, mayelliU19, mayelliU22, mayelliU25, mayelliU28];
const mayelliBase = [mayelliU4Base, mayelliU7Base, mayelliU10Base, mayelliU13Base, mayelliU16Base, mayelliU19Base, mayelliU22Base, mayelliU25Base, mayelliU28Base];

// ---------- layout ----------
const FONT = "DejaVu Sans";
const INK = "#1a1a1a";
const GRIDS = [
  { left: 93, top: 52, width: 1985, height: 467 },
  { left: 93, top: 579.5, width: 1985, height: 467 },
  { left: 93, top: 1106.7, width: 1985, height: 311.6 },
];
const X_MIN = 156;
const X_MAX = 684;
const ROUND_LABEL_Y = [1.096, 1.096, 28.64];
const LEGEND_COLUMNS = [[0, 1, 2], [3, 4], [5, 6], [7, 8]];
const LEGEND_COLUMN_LEFT = [1577, 1706, 1833, 1962];

function rgba(hex: string, a: number) {
  const n = parseInt(hex.slice(1), 16);
  return `rgba(${(n >> 16) & 255},${(n >> 8) & 255},${n & 255},${a})`;
}

function bandSeries(axis: number, upper: number[], lower: number[], fill: string, stroke?: string) {
  return {
    type: "custom",
    xAxisIndex: axis,
    yAxisIndex: axis,
    silent: true,
    clip: true,
    z: 2,
    data: times.map((t, i) => [t, upper[i], lower[i]]),
    encode: { x: 0, y: [1, 2] },
    renderItem: (params: any, api: any) => {
      if (params.dataIndex !== 0) return null;
      const pts: number[][] = [];
      for (let i = 0; i < times.length; i++) pts.push(api.coord([times[i], upper[i]]));
      for (let i = times.length - 1; i >= 0; i--) pts.push(api.coord([times[i], lower[i]]));
      return {
        type: "polygon",
        shape: { points: pts },
        style: { fill, stroke: stroke || "none", lineWidth: stroke ? 1.3 : 0 },
        silent: true,
      };
    },
  };
}

function lineSeries(axis: number, name: string, ys: number[], color: string, style: any) {
  return {
    type: "line",
    name,
    xAxisIndex: axis,
    yAxisIndex: axis,
    data: times.map((t, i) => [t, ys[i]]),
    symbol: "none",
    showSymbol: false,
    silent: true,
    z: 3,
    itemStyle: { color },
    lineStyle: { color, cap: "butt", join: "round", ...style },
    emphasis: { disabled: true },
  };
}

function roundSeries(axis: number) {
  return {
    type: "scatter",
    xAxisIndex: axis,
    yAxisIndex: axis,
    silent: true,
    z: 4,
    symbolSize: 0.1,
    itemStyle: { color: "rgba(0,0,0,0)" },
    data: rounds.map((r) => [r, ROUND_LABEL_Y[axis]]),
    label: {
      show: true,
      position: "right",
      distance: 7,
      formatter: (p: any) => roundNames[p.dataIndex],
      fontSize: 16,
      fontFamily: FONT,
      color: "#666",
    },
    markLine: {
      silent: true,
      symbol: "none",
      label: { show: false },
      lineStyle: { color: "#555", type: [1.5, 2.5], width: 1 },
      emphasis: { disabled: true },
      data: rounds.map((r) => ({ xAxis: r })),
    },
  };
}

function buildOption() {
  const xAxis = GRIDS.map((_, i) => ({
    type: "value",
    gridIndex: i,
    min: X_MIN,
    max: X_MAX,
    axisLine: { show: false, onZero: false },
    axisTick: { show: true, customValues: xTicks, length: 7, lineStyle: { color: INK, width: 1.3 } },
    axisLabel: { show: i === 2, customValues: xTicks, fontSize: 14.5, fontFamily: FONT, color: INK, margin: 13 },
    splitLine: { show: false },
  }));

  const probAxis = (i: number) => ({
    type: "value",
    gridIndex: i,
    min: 0,
    max: 1.15,
    interval: 0.05,
    axisLine: { show: false, onZero: false },
    axisTick: { show: true, length: 7, lineStyle: { color: INK, width: 1.3 } },
    axisLabel: { formatter: (v: number) => v.toFixed(2), fontSize: 13.5, fontFamily: FONT, color: INK, margin: 14 },
    splitLine: { show: true, lineStyle: { color: "#e3e3e3", width: 1 } },
  });
  const yAxis = [
    probAxis(0),
    probAxis(1),
    {
      type: "value",
      gridIndex: 2,
      min: -1.45,
      max: 30.45,
      axisLine: { show: false, onZero: false },
      axisTick: { show: true, customValues: countTicks, length: 7, lineStyle: { color: INK, width: 1.3 } },
      axisLabel: { customValues: countTicks, fontSize: 14, fontFamily: FONT, color: INK, margin: 14 },
      splitLine: { show: true, lineStyle: { color: "#e3e3e3", width: 1 } },
    },
  ];

  const series: any[] = [];
  const panels = [
    { solid: ellieLines, base: ellieBase },
    { solid: mayelliLines, base: mayelliBase },
  ];
  panels.forEach((panel, p) => {
    thresholds.forEach((thr, k) => {
      const color = thresholdColors[k];
      series.push(bandSeries(p, panel.solid[k], panel.base[k], rgba(color, 0.11)));
      series.push(lineSeries(p, thr, panel.solid[k], color, { width: 2.6, opacity: 0.85 }));
      series.push(lineSeries(p, `${thr} baseline`, panel.base[k], color, { width: 1.6, opacity: 0.85, type: [1.6, 2.4] }));
    });
    series.push(roundSeries(p));
  });

  // counts panel
  series.push(bandSeries(2, predEllieHigh, predEllieLow, "rgba(255,0,0,0.14)", "rgba(255,0,0,0.12)"));
  series.push(bandSeries(2, predMayelliHigh, predMayelliLow, "rgba(0,0,255,0.12)", "rgba(0,0,255,0.12)"));
  series.push(lineSeries(2, countLegend[0], truthEllie, "#ff0000", { width: 3.3, opacity: 0.72 }));
  series.push(lineSeries(2, countLegend[1], truthMayelli, "#0000ff", { width: 3.3, opacity: 0.72 }));
  series.push(lineSeries(2, countLegend[2], predEllie, "#ff0000", { width: 3, opacity: 0.6, type: [3, 3.6] }));
  series.push(lineSeries(2, countLegend[3], predMayelli, "#0000ff", { width: 3, opacity: 0.6, type: [3, 3.6] }));
  series.push(roundSeries(2));

  const legend: any[] = [];
  [0, 1].forEach((p) => {
    LEGEND_COLUMNS.forEach((col, c) => {
      legend.push({
        orient: "vertical",
        left: LEGEND_COLUMN_LEFT[c],
        top: GRIDS[p].top + 9.5,
        padding: 0,
        itemGap: 6,
        itemWidth: 27,
        itemHeight: 3,
        icon: "rect",
        selectedMode: false,
        z: 11,
        data: col.map((k) => thresholds[k]),
        textStyle: { fontSize: 12.5, fontFamily: FONT, color: INK, lineHeight: 13, padding: [0, 0, 0, 3] },
      });
    });
  });
  legend.push({
    orient: "vertical",
    left: 105.7,
    top: 1119,
    padding: 0,
    itemGap: 8.3,
    itemWidth: 30,
    itemHeight: 14,
    selectedMode: false,
    z: 11,
    // line handles only, no marker dot
    itemStyle: { opacity: 0 },
    data: countLegend,
    textStyle: { fontSize: 14, fontFamily: FONT, color: INK, lineHeight: 14, padding: [0, 0, 0, 6] },
  });

  const centerX = GRIDS[0].left + GRIDS[0].width / 2;
  const text = (x: number, y: number, str: string, size: number, rotation = 0) => ({
    type: "text",
    x,
    y,
    rotation,
    z: 12,
    silent: true,
    style: {
      text: str,
      fill: "#000",
      font: `${size}px "${FONT}"`,
      textAlign: "center",
      textVerticalAlign: "middle",
      align: "center",
      verticalAlign: "middle",
    },
  });
  const box = (x: number, y: number, w: number, h: number) => ({
    type: "rect",
    z: 10,
    silent: true,
    shape: { x, y, width: w, height: h, r: 3 },
    style: { fill: "rgba(255,255,255,0.82)", stroke: "#cccccc", lineWidth: 1.2 },
  });

  const graphic = [
    text(centerX, 31, fighters[0] + titleSuffix, 20.8),
    text(centerX, 558, fighters[1] + titleSuffix, 20.8),
    text(29.5, GRIDS[0].top + GRIDS[0].height / 2, "Prob", 14, Math.PI / 2),
    text(29.5, GRIDS[1].top + GRIDS[1].height / 2, "Prob", 14, Math.PI / 2),
    text(40, GRIDS[2].top + GRIDS[2].height / 2, "Count", 14, Math.PI / 2),
    text(centerX, 1464, "Fight time (seconds)", 20.8),
    box(1573, GRIDS[0].top + 6, 498, 60),
    box(1573, GRIDS[1].top + 6, 498, 60),
    box(100, 1114, 288, 94),
  ];

  return {
    animation: false,
    backgroundColor: "#ffffff",
    textStyle: { fontFamily: FONT },
    grid: GRIDS.map((g) => ({ ...g, show: true, borderColor: INK, borderWidth: 1.6, containLabel: false })),
    xAxis,
    yAxis,
    legend,
    series,
    graphic,
  };
}

export default function App() {
  const ref = useRef<HTMLDivElement>(null);
  useEffect(() => {
    if (!ref.current) return;
    const chart = echarts.init(ref.current, null, { renderer: "svg" });
    chart.setOption(buildOption() as any);
    return () => chart.dispose();
  }, []);
  return (
    <div
      ref={ref}
      style={{ position: "absolute", left: 0, top: 0, width: 2100, height: 1500, background: "#fff" }}
    />
  );
}
